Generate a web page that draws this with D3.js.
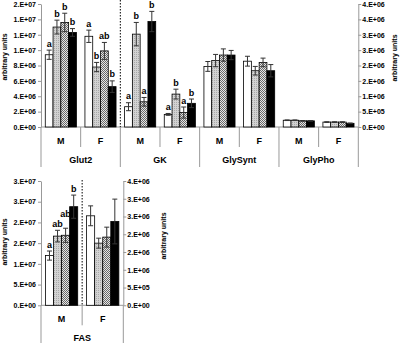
<!DOCTYPE html>
<html><head><meta charset="utf-8">
<script src="https://cdn.jsdelivr.net/npm/d3@7"></script>
<style>
body{margin:0;background:#fff;}
svg{display:block;font-family:"Liberation Sans",Arial,sans-serif;}
</style></head>
<body><svg id="c" width="400" height="343"></svg>
<script>
// ---- data ----
const seriesKeys = ["s1","s2","s3","s4"];
const sexes = ["M","F"];
const topGenes = ["Glut2","GK","GlySynt","GlyPho"];
const rightAxisGenes = ["GK","GlySynt","GlyPho"];

const glut2Mean = [[9.4e6,13.0e6,13.6e6,12.3e6],[11.8e6,7.8e6,9.9e6,5.25e6]];
const glut2Err  = [[0.6e6,0.9e6,1.2e6,0.5e6],[0.8e6,0.6e6,1.1e6,0.75e6]];
const glut2Sig  = [["a","b","b","b"],["a","b","ab","b"]];

const gkMean = [[0.66e6,3.02e6,0.82e6,3.43e6],[0.41e6,1.07e6,0.47e6,0.77e6]];
const gkErr  = [[0.13e6,0.38e6,0.14e6,0.33e6],[0.03e6,0.16e6,0.18e6,0.14e6]];
const gkSig  = [["a","b","a","b"],["a","b","a","b"]];

const glySyntMean = [[1.97e6,2.16e6,2.34e6,2.34e6],[2.14e6,1.83e6,2.10e6,1.83e6]];
const glySyntErr  = [[0.16e6,0.20e6,0.20e6,0.15e6],[0.16e6,0.14e6,0.14e6,0.20e6]];
const glySyntSig  = [["","","",""],["","","",""]];

const glyPhoMean = [[0.22e6,0.22e6,0.20e6,0.20e6],[0.16e6,0.16e6,0.16e6,0.12e6]];
const glyPhoErr  = [[0.01e6,0.01e6,0.01e6,0.01e6],[0.01e6,0.01e6,0.01e6,0.01e6]];
const glyPhoSig  = [["","","",""],["","","",""]];

const fasMean = [[12.0e6,16.7e6,16.9e6,23.8e6],[2.52e6,1.75e6,1.92e6,2.36e6]];
const fasErr  = [[1.1e6,1.4e6,1.7e6,2.8e6],[0.28e6,0.14e6,0.28e6,0.63e6]];
const fasSig  = [["a","ab","ab","b"],["","","",""]];

const leftTopTicks  = ["0.E+00","2.E+06","4.E+06","6.E+06","8.E+06","1.E+07","1.E+07","1.E+07","2.E+07"];
const rightTopTicks = ["0.E+00","5.E+05","1.E+06","2.E+06","2.E+06","3.E+06","3.E+06","4.E+06","4.E+06"];
const leftBotTicks  = ["0.E+00","5.E+06","1.E+07","2.E+07","2.E+07","3.E+07","3.E+07"];
const rightBotTicks = ["0.E+00","5.E+05","1.E+06","2.E+06","2.E+06","3.E+06","3.E+06","4.E+06"];

const topData = {Glut2:[glut2Mean,glut2Err,glut2Sig],GK:[gkMean,gkErr,gkSig],
  GlySynt:[glySyntMean,glySyntErr,glySyntSig],GlyPho:[glyPhoMean,glyPhoErr,glyPhoSig]};

// ---- drawing ----
const svg = d3.select("#c");
const defs = svg.append("defs");
const pDots = defs.append("pattern").attr("id","dots").attr("width",2).attr("height",2).attr("patternUnits","userSpaceOnUse");
pDots.append("rect").attr("width",2).attr("height",2).attr("fill","#d2d2d2");
pDots.append("rect").attr("width",1).attr("height",1).attr("fill","#a8a8a8");
const pChk = defs.append("pattern").attr("id","chk").attr("width",2).attr("height",2).attr("patternUnits","userSpaceOnUse");
pChk.append("rect").attr("width",2).attr("height",2).attr("fill","#e6e6e6");
pChk.append("rect").attr("width",1).attr("height",1).attr("fill","#6a6a6a");
pChk.append("rect").attr("x",1).attr("y",1).attr("width",1).attr("height",1).attr("fill","#6a6a6a");
const fills = {s1:"#fff",s2:"url(#dots)",s3:"url(#chk)",s4:"#000"};

const axisCol = "#999";
const FONT = "bold 7px 'Liberation Sans', Arial, sans-serif";
const LFONT = "bold 9px 'Liberation Sans', Arial, sans-serif";

function styleAxis(g){
  g.select(".domain").attr("stroke",axisCol);
  g.selectAll(".tick line").attr("stroke",axisCol);
  g.selectAll(".tick text").style("font",FONT).attr("fill","#000");
}

function drawPanel(opt){
  const {x0,x1,yBase,yTop,groups,leftMax,leftTicks,rightMax,rightTicks,getData,isRight,dashX,dashTop,yLab1,yLab2,rightLabX} = opt;
  const yL = d3.scaleLinear().domain([0,leftMax]).range([yBase,yTop]);
  const yR = d3.scaleLinear().domain([0,rightMax]).range([yBase,yTop]);
  const xG = d3.scaleBand().domain(groups).range([x0,x1]);
  const xS = d3.scaleBand().domain(sexes).range([0,xG.bandwidth()]);
  const xB = d3.scaleBand().domain(seriesKeys).range([0,xS.bandwidth()]).paddingInner(0).paddingOuter(0.55);

  const lStep = leftMax/(leftTicks.length-1), rStep = rightMax/(rightTicks.length-1);
  const gl = svg.append("g").attr("transform",`translate(${x0},0)`)
    .call(d3.axisLeft(yL).tickValues(leftTicks.map((t,i)=>i*lStep)).tickFormat((d,i)=>leftTicks[i]).tickSize(3).tickSizeOuter(0).tickPadding(2));
  styleAxis(gl);
  const gr = svg.append("g").attr("transform",`translate(${x1},0)`)
    .call(d3.axisRight(yR).tickValues(rightTicks.map((t,i)=>i*rStep)).tickFormat((d,i)=>rightTicks[i]).tickSize(3).tickSizeOuter(0).tickPadding(1));
  styleAxis(gr);

  // baseline & category separators
  svg.append("line").attr("x1",x0).attr("x2",x1).attr("y1",yBase).attr("y2",yBase).attr("stroke",axisCol);
  groups.forEach(g=>{
    const gx = xG(g);
    svg.append("line").attr("x1",gx).attr("x2",gx).attr("y1",yBase).attr("y2",yBase+40).attr("stroke",axisCol);
    const mx = gx + xS("F");
    svg.append("line").attr("x1",mx).attr("x2",mx).attr("y1",yBase).attr("y2",yBase+20).attr("stroke",axisCol);
    sexes.forEach(s=>{
      svg.append("text").attr("x",gx+xS(s)+xS.bandwidth()/2).attr("y",yBase+17)
        .attr("text-anchor","middle").style("font",LFONT).text(s);
    });
    svg.append("text").attr("x",gx+xG.bandwidth()/2).attr("y",yBase+36)
      .attr("text-anchor","middle").style("font",LFONT).text(g);
  });
  svg.append("line").attr("x1",x1).attr("x2",x1).attr("y1",yBase).attr("y2",yBase+40).attr("stroke",axisCol);

  // bars
  groups.forEach(g=>{
    sexes.forEach((s,si)=>{
      const [mean,err,sig] = getData(g);
      const y = isRight(g,s) ? yR : yL;
      let prev = null; // previous label box for collision avoidance
      seriesKeys.forEach((k,ki)=>{
        const bx = xG(g)+xS(s)+xB(k), bw = xB.bandwidth();
        const m = mean[si][ki], e = err[si][ki];
        svg.append("rect").attr("x",bx).attr("y",y(m)).attr("width",bw).attr("height",yBase-y(m))
          .attr("fill",fills[k]).attr("stroke","#000").attr("stroke-width",0.8);
        const cx = bx+bw/2;
        const eg = svg.append("g").attr("stroke","#333").attr("stroke-width",1);
        eg.append("line").attr("x1",cx).attr("x2",cx).attr("y1",y(m-e)).attr("y2",y(m+e));
        eg.append("line").attr("x1",cx-2.5).attr("x2",cx+2.5).attr("y1",y(m+e)).attr("y2",y(m+e));
        eg.append("line").attr("x1",cx-2.5).attr("x2",cx+2.5).attr("y1",y(m-e)).attr("y2",y(m-e));
        const lab = sig[si][ki];
        if(lab){
          let ly = y(m+e)-3.5;
          const w = lab.length*5.2;
          if(prev && (cx-w/2) < prev.x2 && Math.abs(ly-prev.y) < 9) ly = Math.min(ly, prev.y-10);
          svg.append("text").attr("x",cx).attr("y",ly).attr("text-anchor","middle").style("font",LFONT).text(lab);
          prev = {x2:cx+w/2, y:ly};
        } else prev = null;
      });
    });
  });

  // dashed divider
  svg.append("line").attr("x1",dashX(xG,xS)).attr("x2",dashX(xG,xS)).attr("y1",dashTop).attr("y2",yBase)
    .attr("stroke","#000").attr("stroke-width",1).attr("stroke-dasharray","1.5,1.5");

  // axis titles
  svg.append("text").attr("transform",`translate(7,${yLab1}) rotate(-90)`).attr("text-anchor","middle")
    .style("font",FONT).text("arbitrary units");
  svg.append("text").attr("transform",`translate(${rightLabX},${yLab2}) rotate(-90)`).attr("text-anchor","middle")
    .style("font",FONT).text("arbitrary units");
}

drawPanel({x0:41,x1:358.3,yBase:127,yTop:4,groups:topGenes,
  leftMax:1.6e7,leftTicks:leftTopTicks,rightMax:4e6,rightTicks:rightTopTicks,
  getData:g=>topData[g], isRight:(g,s)=>rightAxisGenes.includes(g),
  dashX:(xG,xS)=>xG("GK"), dashTop:0, yLab1:57, yLab2:58, rightLabX:397});

drawPanel({x0:41,x1:123.3,yBase:305.3,yTop:181,groups:["FAS"],
  leftMax:3e7,leftTicks:leftBotTicks,rightMax:3.5e6,rightTicks:rightBotTicks,
  getData:g=>[fasMean,fasErr,fasSig], isRight:(g,s)=>s==="F",
  dashX:(xG,xS)=>xG("FAS")+xS("F"), dashTop:180, yLab1:242, yLab2:236, rightLabX:166});
</script></body></html>
